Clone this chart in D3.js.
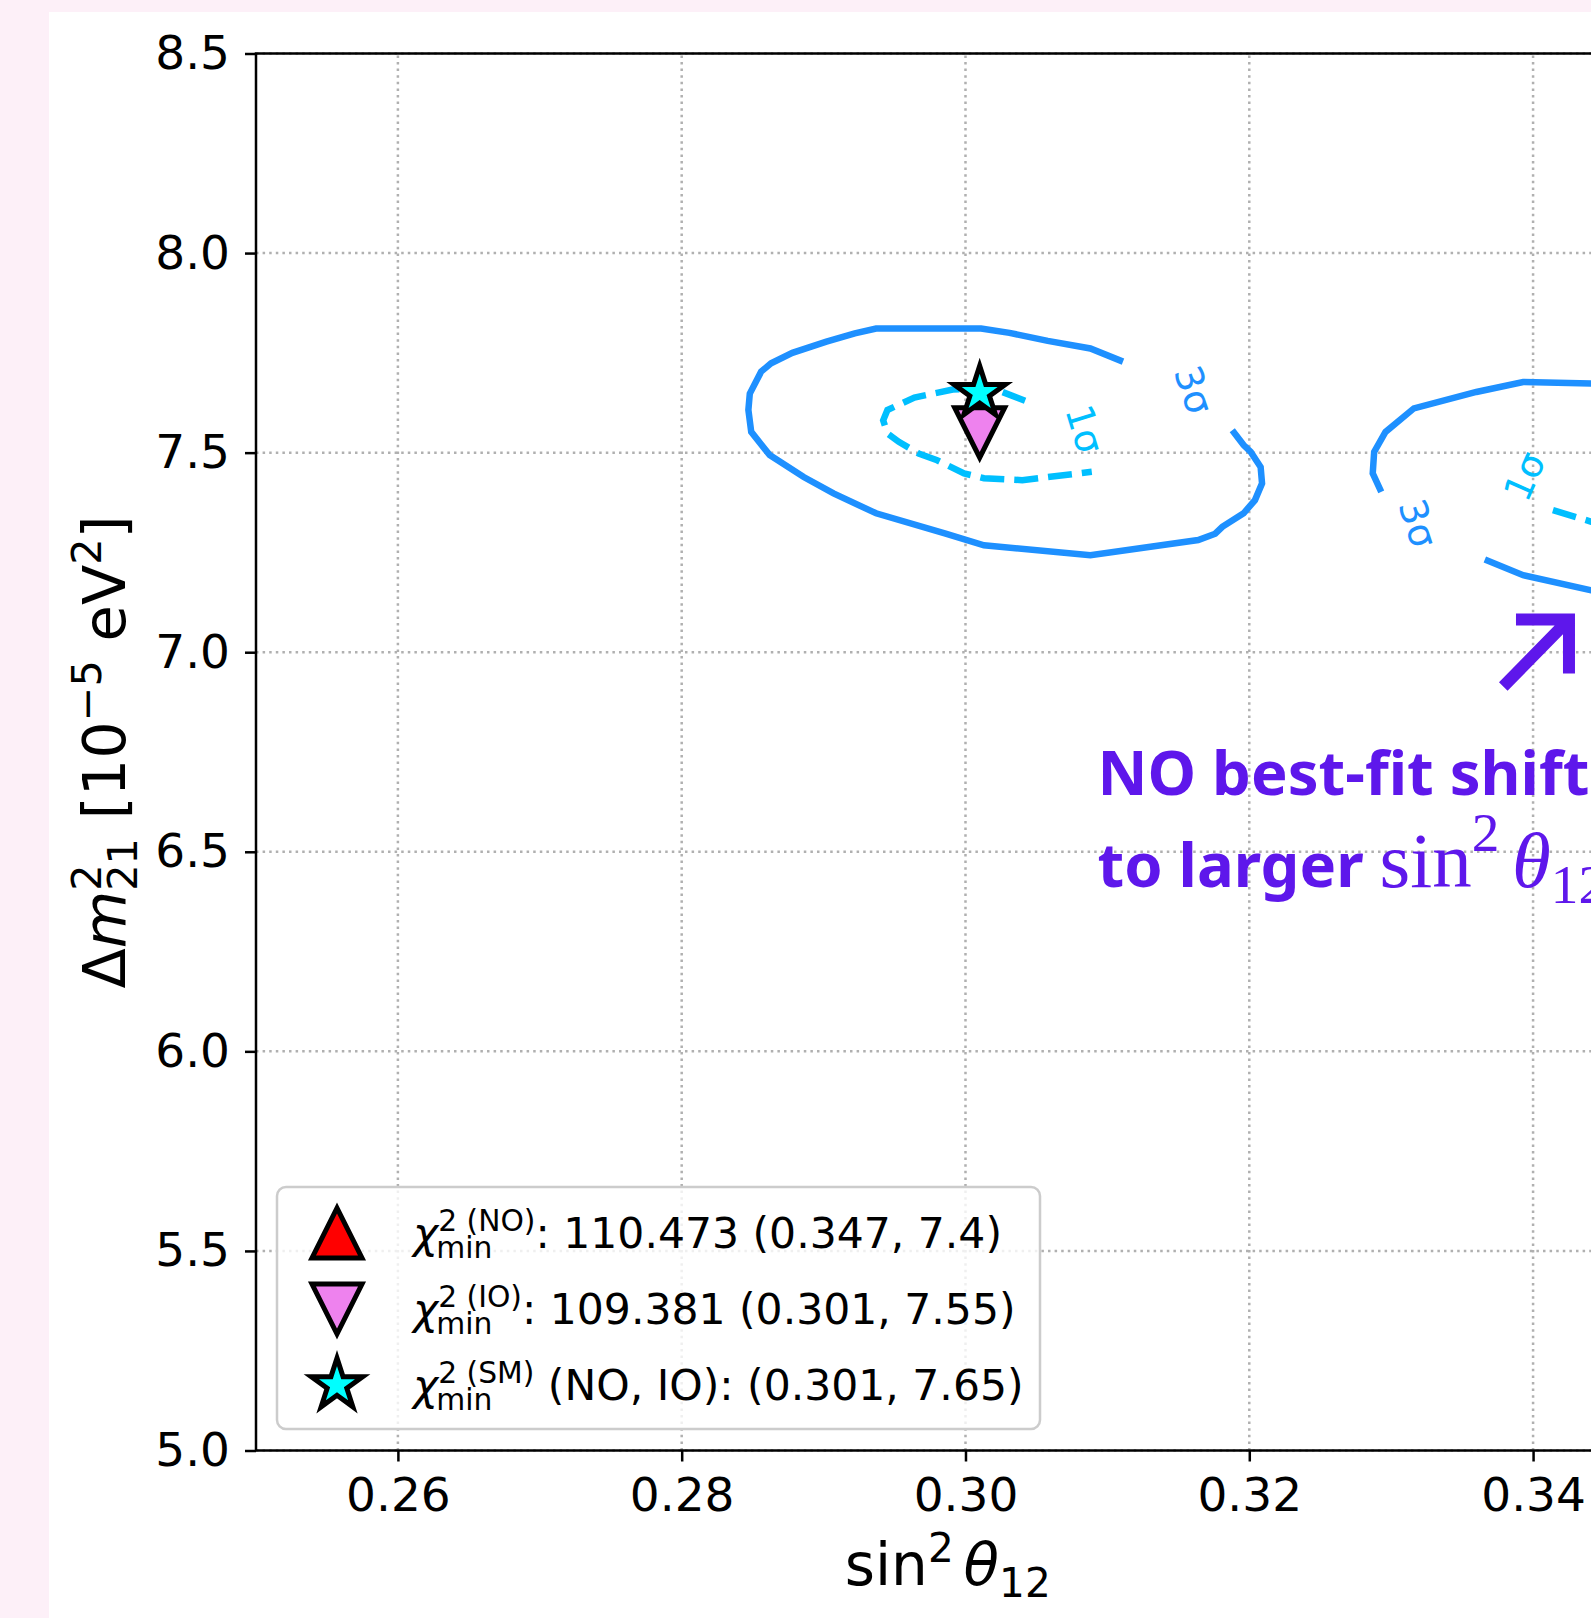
<!DOCTYPE html>
<html>
<head>
<meta charset="utf-8">
<script src="https://cdn.jsdelivr.net/npm/d3@7"></script>
<style>
  html, body { margin: 0; padding: 0; background: #fdf0f8; overflow: hidden; }
  svg { display: block; }
</style>
</head>
<body>
<script>
// axis ticks
var xTicks = [0.26, 0.28, 0.30, 0.32, 0.34];
var yTicks = [5.0, 5.5, 6.0, 6.5, 7.0, 7.5, 8.0, 8.5];

// contour pieces, [sin^2 theta12, dm21^2]
var io3Sigma = [[0.3111,7.728],[0.3088,7.761],[0.3058,7.780],[0.3031,7.800],[0.3011,7.811],
  [0.2937,7.811],[0.2922,7.799],[0.2902,7.778],[0.2878,7.750],[0.2863,7.724],[0.2856,7.703],
  [0.2848,7.648],[0.2847,7.607],[0.2849,7.552],[0.2862,7.494],[0.2886,7.439],[0.2907,7.398],
  [0.2937,7.348],[0.2986,7.297],[0.3013,7.268],[0.3088,7.243],[0.3164,7.281],[0.3176,7.297],
  [0.3181,7.314],[0.3196,7.348],[0.3204,7.381],[0.3209,7.423],[0.3208,7.464],[0.3201,7.502],
  [0.3196,7.519],[0.3188,7.556]];
var io1Sigma = [[0.3042,7.630],[0.3026,7.652],[0.3013,7.663],[0.2991,7.658],[0.2964,7.638],
  [0.2945,7.607],[0.2942,7.581],[0.2945,7.548],[0.2953,7.527],[0.2967,7.498],[0.2980,7.481],
  [0.2999,7.448],[0.3013,7.436],[0.3040,7.431],[0.3089,7.452]];
var no3SigmaUpper = [[0.3293,7.402],[0.3287,7.448],[0.3288,7.502],[0.3296,7.552],[0.3316,7.611],
  [0.3360,7.652],[0.3393,7.677],[0.3441,7.673],[0.3500,7.672]];
var no3SigmaLower = [[0.3366,7.232],[0.3393,7.193],[0.3441,7.155],[0.3500,7.130]];
var no1SigmaLower = [[0.3414,7.356],[0.3441,7.327],[0.3500,7.300]];

var contourLabelText = ["3σ", "1σ", "3σ", "1σ"];
var contourLabelX = [0.3161, 0.3084, 0.3319, 0.3394];
var contourLabelY = [7.657, 7.559, 7.323, 7.441];
var contourLabelAngle = [71, 73, 72, -66];
var contourLabelLevel = [3, 1, 3, 1];

// best fit points
var fitNames = ["NO", "IO", "SM"];
var fitX = [0.347, 0.301, 0.301];
var fitY = [7.4, 7.55, 7.65];
var legendRest = [": 110.473 (0.347, 7.4)", ": 109.381 (0.301, 7.55)", " (NO, IO): (0.301, 7.65)"];

// annotation
var noteLines = ["NO best-fit shifts", "to larger"];
var noteX = 0.3093;
var noteY = [6.642, 6.411];
var arrowFrom = [0.3379, 6.914];
var arrowTo = [0.34253, 7.082];

var width = 1591, height = 1618;
var colors = {3: "#1e90ff", 1: "#00bfff"};
var purple = "#5e17eb";

var svg = d3.select("body").append("svg")
    .attr("width", width)
    .attr("height", height);

// white figure panel
svg.append("rect")
    .attr("x", 49).attr("y", 12)
    .attr("width", width - 49).attr("height", height - 12)
    .attr("fill", "#ffffff");

var x = d3.scaleLinear().domain([0.25, 0.3475]).range([256, 1639.5]);
var y = d3.scaleLinear().domain([5.0, 8.5]).range([1450.5, 53.5]);

//grid
var grid = svg.append("g")
    .attr("stroke", "#b0b0b0")
    .attr("stroke-width", 2.5)
    .attr("stroke-dasharray", "2.5,4.1");
grid.selectAll(".gx").data(xTicks).enter().append("line")
    .attr("x1", function(d){ return x(d); }).attr("x2", function(d){ return x(d); })
    .attr("y1", y(5.0)).attr("y2", y(8.5));
grid.selectAll(".gy").data(yTicks).enter().append("line")
    .attr("y1", function(d){ return y(d); }).attr("y2", function(d){ return y(d); })
    .attr("x1", x(0.25)).attr("x2", x(0.3475));

//contours
var line = d3.line()
    .x(function(d){ return x(d[0]); })
    .y(function(d){ return y(d[1]); });

var pieces = [
    {pts: io3Sigma, level: 3},
    {pts: io1Sigma, level: 1},
    {pts: no3SigmaUpper, level: 3},
    {pts: no3SigmaLower, level: 3},
    {pts: no1SigmaLower, level: 1}
];
svg.selectAll(".contour").data(pieces).enter().append("path")
    .attr("class", "contour")
    .attr("d", function(d){ return line(d.pts); })
    .attr("fill", "none")
    .attr("stroke", function(d){ return colors[d.level]; })
    .attr("stroke-width", 6.5)
    .attr("stroke-dasharray", function(d){ return d.level === 1 ? "24,10" : null; });

svg.selectAll(".clabel").data(contourLabelText).enter().append("text")
    .attr("class", "clabel")
    .attr("transform", function(d, i){
        return "translate(" + x(contourLabelX[i]) + "," + y(contourLabelY[i]) + ") rotate(" + contourLabelAngle[i] + ")";
    })
    .attr("text-anchor", "middle")
    .attr("dy", "0.35em")
    .attr("font-family", "DejaVu Sans")
    .attr("font-size", 38)
    .attr("fill", function(d, i){ return colors[contourLabelLevel[i]]; })
    .text(function(d){ return d; });

//markers
function triangle(r, up){
    var p = d3.path(), s = up ? 1 : -1;
    p.moveTo(0, -s * r);
    p.lineTo(-r, s * r);
    p.lineTo(r, s * r);
    p.closePath();
    return p.toString();
}
var starPath = d3.symbol(d3.symbolStar, 27 * 27 / 0.8908130915292852)();
var markerPath = [triangle(25, true), triangle(25, false), starPath];
var markerFill = ["#ff0000", "#ee82ee", "#00ffff"];

svg.selectAll(".fit").data(fitNames).enter().append("path")
    .attr("class", "fit")
    .attr("transform", function(d, i){ return "translate(" + x(fitX[i]) + "," + y(fitY[i]) + ")"; })
    .attr("d", function(d, i){ return markerPath[i]; })
    .attr("fill", function(d, i){ return markerFill[i]; })
    .attr("stroke", "#000")
    .attr("stroke-width", 5)
    .attr("stroke-linejoin", "miter");

//spines and axes
svg.append("rect")
    .attr("x", x(0.25)).attr("y", y(8.5))
    .attr("width", x(0.3475) - x(0.25)).attr("height", y(5.0) - y(8.5))
    .attr("fill", "none").attr("stroke", "#000").attr("stroke-width", 2.5);

var xAxis = svg.append("g")
    .attr("transform", "translate(0," + y(5.0) + ")")
    .call(d3.axisBottom(x).tickValues(xTicks).tickFormat(d3.format(".2f")).tickSize(11).tickPadding(16));
var yAxis = svg.append("g")
    .attr("transform", "translate(" + x(0.25) + ",0)")
    .call(d3.axisLeft(y).tickValues(yTicks).tickFormat(d3.format(".1f")).tickSize(11).tickPadding(15));
[xAxis, yAxis].forEach(function(a){
    a.select(".domain").remove();
    a.attr("font-family", "DejaVu Sans").attr("font-size", 47);
    a.selectAll(".tick line").attr("stroke", "#000").attr("stroke-width", 2.5);
    a.selectAll(".tick text").attr("fill", "#000");
});

//math-like text built from pieces
function drawMath(g, items, size, family){
    var cx = 0;
    items.forEach(function(it){
        if (it.gap) { cx += it.gap * size; return; }
        if (it.sup != null || it.sub != null){
            var w = 0;
            if (it.sup != null){
                var ts = g.append("text").attr("x", cx).attr("y", -(it.supShift || 0.36) * size)
                    .attr("font-size", size * 0.7).attr("font-family", it.family || family).text(it.sup);
                w = Math.max(w, ts.node().getComputedTextLength());
            }
            if (it.sub != null){
                var tb = g.append("text").attr("x", cx + (it.subDx || 0)).attr("y", (it.subShift || 0.22) * size)
                    .attr("font-size", size * 0.7).attr("font-family", it.family || family).text(it.sub);
                w = Math.max(w, tb.node().getComputedTextLength() + (it.subDx || 0));
            }
            cx += w;
            return;
        }
        var t = g.append("text").attr("x", cx).attr("y", 0)
            .attr("font-size", it.size || size)
            .attr("font-family", it.family || family)
            .text(it.t);
        if (it.i) t.attr("font-style", "italic");
        if (it.bold) t.attr("font-weight", 700);
        cx += t.node().getComputedTextLength();
    });
    return cx;
}

// x label
var xl = svg.append("g").attr("fill", "#000");
var xlw = drawMath(xl, [{t: "sin"}, {sup: "2", supShift: 0.4}, {gap: 0.17}, {t: "θ", i: true}, {sub: "12", subShift: 0.2}], 58, "DejaVu Sans");
xl.attr("transform", "translate(" + ((x(0.25) + x(0.3475)) / 2 - xlw / 2) + ",1585)");

// y label
var yl = svg.append("g").attr("fill", "#000");
var ylw = drawMath(yl, [{t: "Δ"}, {t: "m", i: true}, {sup: "2", sub: "21", supShift: 0.4, subShift: 0.2},
    {gap: 0.32}, {t: "[10"}, {sup: "−5", supShift: 0.4}, {gap: 0.32}, {t: "eV"}, {sup: "2", supShift: 0.4}, {t: "]"}], 59, "DejaVu Sans");
yl.attr("transform", "translate(125," + ((y(5.0) + y(8.5)) / 2) + ") rotate(-90) translate(" + (-ylw / 2) + ",0)");

//legend
var legend = svg.append("g");
legend.append("rect")
    .attr("x", 277).attr("y", 1187).attr("width", 763).attr("height", 242)
    .attr("rx", 9).attr("ry", 9)
    .attr("fill", "#ffffff").attr("fill-opacity", 0.8)
    .attr("stroke", "#cccccc").attr("stroke-width", 2.5);
fitNames.forEach(function(name, i){
    var cy = 1233 + i * 76;
    legend.append("path")
        .attr("transform", "translate(337," + cy + ")")
        .attr("d", markerPath[i])
        .attr("fill", markerFill[i])
        .attr("stroke", "#000").attr("stroke-width", 5);
    var row = legend.append("g").attr("fill", "#000").attr("transform", "translate(413," + (cy + 15) + ")");
    drawMath(row, [{t: "χ", i: true}, {sup: "2 (" + name + ")", sub: "min", supShift: 0.4, subShift: 0.24, subDx: -2}, {t: legendRest[i]}], 42.5, "DejaVu Sans");
});
legend.selectAll("text").style("white-space", "pre");

//annotation
var note = svg.append("g").attr("fill", purple);
note.append("text")
    .attr("x", x(noteX)).attr("y", y(noteY[0]))
    .attr("font-family", "Noto Sans").attr("font-weight", 700).attr("font-size", 61.5)
    .text(noteLines[0]);
var note2 = note.append("g").attr("transform", "translate(" + x(noteX) + "," + y(noteY[1]) + ")");
drawMath(note2, [{t: noteLines[1], bold: true, family: "Noto Sans", size: 61.5}, {gap: 0.2},
    {t: "sin", family: "Liberation Serif"}, {sup: "2", supShift: 0.46, family: "Liberation Serif"}, {gap: 0.16},
    {t: "θ", i: true, family: "Liberation Serif"}, {sub: "12", subShift: 0.2, family: "Liberation Serif"}], 79, "Liberation Serif");

var tip = [x(arrowTo[0]), y(arrowTo[1])];
var arrow = d3.path();
arrow.moveTo(x(arrowFrom[0]), y(arrowFrom[1]));
arrow.lineTo(tip[0], tip[1]);
arrow.moveTo(tip[0] - 53, tip[1]);
arrow.lineTo(tip[0], tip[1]);
arrow.lineTo(tip[0], tip[1] + 54);
svg.append("path")
    .attr("d", arrow.toString())
    .attr("fill", "none")
    .attr("stroke", purple)
    .attr("stroke-width", 12)
    .attr("stroke-linejoin", "miter")
    .attr("stroke-linecap", "butt");
</script>
</body>
</html>
